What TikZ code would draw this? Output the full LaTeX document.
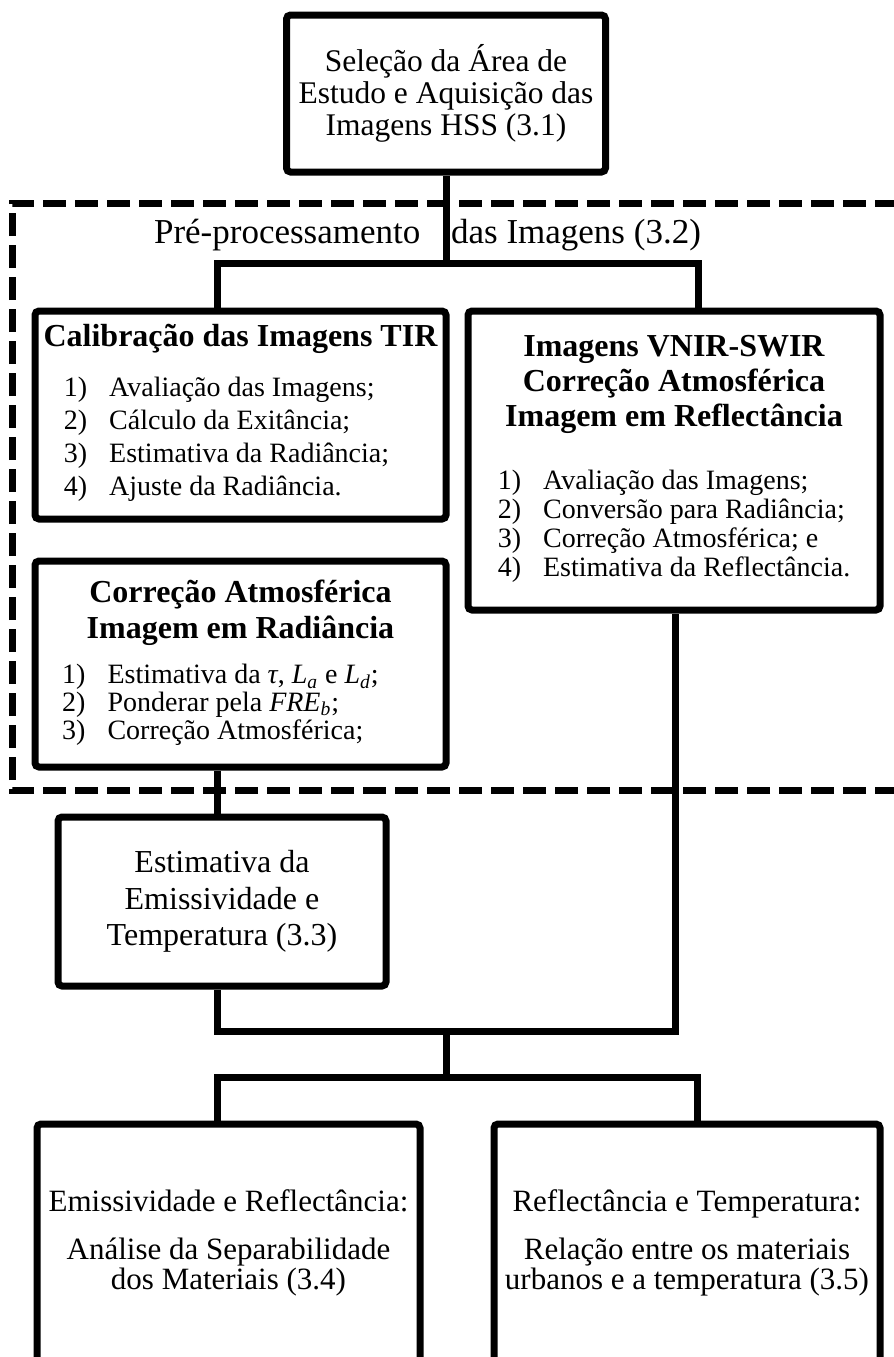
\documentclass[tikz,border=0pt]{standalone}
\usepackage{fontspec}
\setmainfont{Liberation Serif}

% lista numerada das etapas (dentro das caixas)
\newcommand{\lista}[2][16.5]{{\normalfont\fontsize{14}{#1}\selectfont
  \begin{tabular}[t]{@{}l@{\hspace{11pt}}l@{}}#2\end{tabular}}}

\begin{document}
\begin{tikzpicture}[x=0.5pt, y=-0.5pt,
    caixa/.style={draw, line width=3.5pt, rounded corners=2pt, fill=white, align=center, inner sep=0pt},
    liga/.style={line width=3.5pt},
    tracejado/.style={line width=3.5pt, dash pattern=on 11.5pt off 4.5pt}]

    \useasboundingbox (0,0) rectangle (894,1357);
    \clip (0,0) rectangle (894,1357);

    % Moldura tracejada do pre-processamento
    \draw[tracejado] (930,790) -- (12,790) -- (12,203) -- (930,203);
    \node[font=\fontsize{17.5}{20}\selectfont] (titulo) at (427.5,235) {Pré-processamento\hspace{11pt} das Imagens (3.2)};

    % Caixas
    \node[caixa, minimum width=159.5pt, minimum height=78.5pt, font=\fontsize{15.75}{15.85}\selectfont] (selecao) at (446,93.5)
        {Seleção da Área de\\Estudo e Aquisição das\\Imagens HSS (3.1)};

    \node[caixa, minimum width=205.5pt, minimum height=104pt, font=\fontsize{16}{16}\selectfont\bfseries] (calib) at (240.5,415)
        {Calibração das Imagens TIR\\[9pt]\lista{1) & Avaliação das Imagens;\\ 2) & Cálculo da Exitância;\\ 3) & Estimativa da Radiância;\\ 4) & Ajuste da Radiância.}\hspace*{14pt}};

    \node[caixa, minimum width=206pt, minimum height=149.5pt, font=\fontsize{16}{17.5}\selectfont\bfseries] (vnir) at (674,460.5)
        {Imagens VNIR-SWIR\\Correção Atmosférica\\Imagem em Reflectância\\[14pt]\lista[14.5]{1) & Avaliação das Imagens;\\ 2) & Conversão para Radiância;\\ 3) & Correção Atmosférica; e\\ 4) & Estimativa da Reflectância.}};

    \node[caixa, minimum width=205.5pt, minimum height=103pt, font=\fontsize{16}{18}\selectfont\bfseries] (radiancia) at (240.5,664)
        {Correção Atmosférica\\Imagem em Radiância\\[4.5pt]\lista[13.75]{1) & Estimativa da \textit{τ}, \textit{L}\textsubscript{\textit{a}} e \textit{L}\textsubscript{\textit{d}};\\ 2) & Ponderar pela \textit{FRE}\textsubscript{\textit{b}};\\ 3) & Correção Atmosférica;}\hspace*{20pt}};

    \node[caixa, minimum width=164pt, minimum height=84.5pt, font=\fontsize{16}{18.3}\selectfont] (emissiv) at (222,901.5)
        {Estimativa da\\Emissividade e\\Temperatura (3.3)};

    \node[caixa, minimum width=191.5pt, minimum height=119pt, font=\fontsize{15.5}{15}\selectfont] (separab) at (228.5,1243)
        {Emissividade e Reflectância:\\[9pt]Análise da Separabilidade\\dos Materiais (3.4)};

    \node[caixa, minimum width=193pt, minimum height=119pt, font=\fontsize{15.5}{15}\selectfont] (relacao) at (687,1243)
        {Reflectância e Temperatura:\\[9pt]Relação entre os materiais\\urbanos e a temperatura (3.5)};

    % Ligacoes
    \coordinate (r1) at (446,263);
    \coordinate (r1e) at (217,263);
    \coordinate (r1d) at (698,263);
    \draw[liga] (selecao.south) -- (r1);
    \draw[liga] (calib.north -| r1e) -- (r1e) -- (r1d) -- (vnir.north -| r1d);

    \draw[liga] (radiancia.south -| r1e) -- (emissiv.north -| r1e);

    \coordinate (r2) at (446,1031);
    \coordinate (r2e) at (217,1031);
    \coordinate (r2d) at (675,1031);
    \draw[liga] (emissiv.south -| r2e) -- (r2e) -- (r2d) -- (vnir.south -| r2d);

    \coordinate (r3) at (446,1077);
    \coordinate (r3e) at (217,1077);
    \coordinate (r3d) at (697,1077);
    \draw[liga] (r2) -- (r3);
    \draw[liga] (separab.north -| r3e) -- (r3e) -- (r3d) -- (relacao.north -| r3d);
\end{tikzpicture}
\end{document}
